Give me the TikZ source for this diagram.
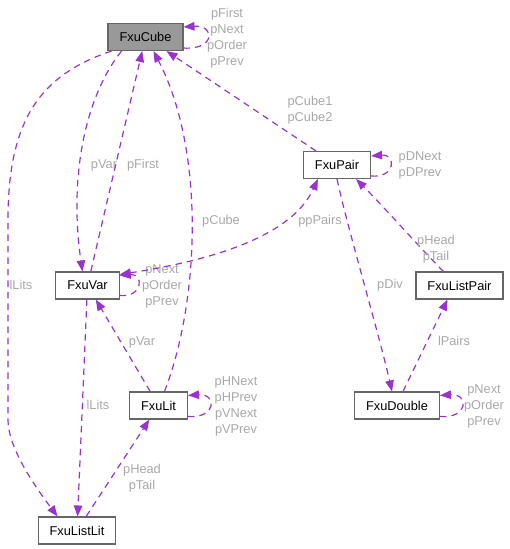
\documentclass[tikz,border=0pt]{standalone}
\usepackage{fontspec}
\setmainfont{Liberation Sans}
\usetikzlibrary{arrows.meta}
\definecolor{edgepurple}{HTML}{9A32CD}
\definecolor{boxgray}{HTML}{666666}
\definecolor{cubegray}{HTML}{999999}
\definecolor{lblgray}{HTML}{A8A8A8}
\tikzset{
  cls/.style={draw=boxgray, fill=white, line width=1.1pt, minimum height=27pt,
    inner xsep=11.5pt, inner ysep=0pt, font=\fontsize{12.8}{16}\selectfont},
  dep/.style={->, draw=edgepurple, line width=1.2pt, dash pattern=on 6.5pt off 5pt},
  lbl/.style={text=lblgray, inner sep=0pt, align=center,
    font=\fontsize{12.8}{16}\selectfont}
}

\begin{document}
\begin{tikzpicture}[x=1pt, y=-1pt, >={Triangle[length=11pt,width=8.5pt]}]
  \useasboundingbox (0,0) rectangle (509,549);
  \node[cls, fill=cubegray] (cube) at (145.5,37) {FxuCube};
  \node[cls] (pair) at (337,165) {FxuPair};
  \node[cls] (var) at (87.5,285.5) {FxuVar};
  \node[cls] (lpair) at (459.5,285.5) {FxuListPair};
  \node[cls] (lit) at (158.5,405.5) {FxuLit};
  \node[cls] (dbl) at (397,405.5) {FxuDouble};
  \node[cls] (llit) at (77,530.5) {FxuListLit};

  \draw[dep] ([yshift=3pt]cube.south east) .. controls +(32,2) and +(32,-2) .. ([yshift=-4pt]cube.north east);
  \node[lbl] (cubeself) at (227,38) {pFirst\\pNext\\pOrder\\pPrev};
  \draw[dep] (pair) -- (cube);
  \node[lbl] (pcube) at (310,110) {pCube1\\pCube2};
  \draw[dep] ([xshift=-24pt]cube.south) .. controls (84,98) and (69,180) .. ([xshift=-5pt]var.north);
  \node[lbl] (pvarup) at (104,165) {pVar};
  \draw[dep] (var) -- (cube);
  \node[lbl] (pfirst) at (143,165) {pFirst};
  \draw[dep] ([xshift=6pt]lit.north) .. controls (200,300) and (205,150) .. ([xshift=8pt]cube.south);
  \node[lbl] (pcubelit) at (221,221) {pCube};
  \draw[dep] ([xshift=4pt]cube.south west) .. controls (40,75) and (8,120) .. (8,220) -- (8,420)
    .. controls (8,445) and (30,480) .. ([xshift=20pt]llit.north west);
  \node[lbl] (llitscube) at (21,285) {lLits};

  \draw[dep] ([yshift=4pt]var.south east) .. controls +(24,2) and +(24,-2) .. ([yshift=-4pt]var.north east);
  \node[lbl] (varself) at (162,286) {pNext\\pOrder\\pPrev};
  \draw[dep, <->] ([yshift=-3pt]var.north east) .. controls (200,262) and (290,240) .. ([xshift=15pt]pair.south west);
  \node[lbl] (pppairs) at (320,221) {ppPairs};
  \draw[dep] (var) -- (llit);
  \node[lbl] (llitsvar) at (98,405) {lLits};

  \draw[dep] ([yshift=3pt]pair.south east) .. controls +(25,2) and +(25,-2) .. ([yshift=-5pt]pair.north east);
  \node[lbl] (pairself) at (420,165) {pDNext\\pDPrev};
  \draw[dep] (pair.south) .. controls (348,230) and (378,330) .. ([xshift=-5pt]dbl.north);
  \node[lbl] (pdiv) at (390,285) {pDiv};
  \draw[dep] ([xshift=-16pt]lpair.north) .. controls (422,250) and (384,207) .. ([xshift=-15pt]pair.south east);
  \node[lbl] (pheadpair) at (436,249) {pHead\\pTail};

  \draw[dep] (lit) -- (var);
  \node[lbl] (pvarlit) at (142,342) {pVar};
  \draw[dep] ([yshift=3pt]lit.south east) .. controls +(29,2) and +(29,-2) .. ([yshift=-4pt]lit.north east);
  \node[lbl] (litself) at (236,406) {pHNext\\pHPrev\\pVNext\\pVPrev};
  \draw[dep] (llit) -- (lit);
  \node[lbl] (pheadlit) at (142,478) {pHead\\pTail};

  \draw[dep] ([xshift=6pt]dbl.north) -- ([xshift=-12pt]lpair.south);
  \node[lbl] (lpairs) at (454,341) {lPairs};
  \draw[dep] ([yshift=3pt]dbl.south east) .. controls +(29,2) and +(29,-2) .. ([yshift=-4pt]dbl.north east);
  \node[lbl] (dblself) at (484,406) {pNext\\pOrder\\pPrev};
\end{tikzpicture}
\end{document}
